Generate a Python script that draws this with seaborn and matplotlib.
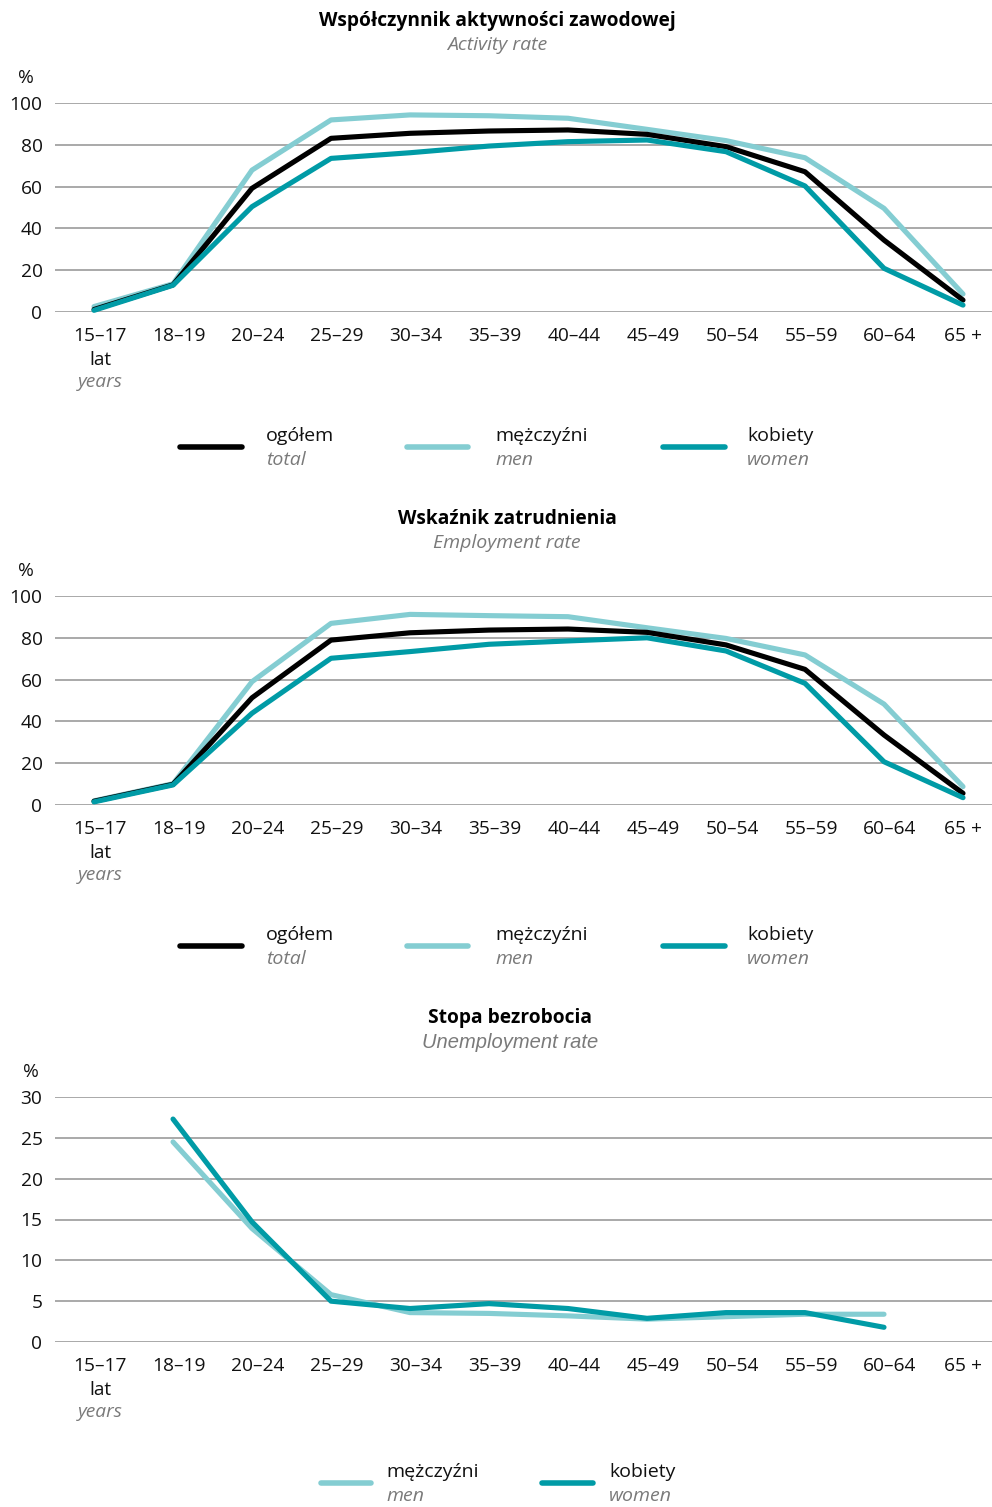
import numpy as np
import pandas as pd
import matplotlib.pyplot as plt
import matplotlib.transforms as mtransforms
from matplotlib.lines import Line2D
import seaborn as sns

# age groups
ages = ['15–17', '18–19', '20–24', '25–29', '30–34', '35–39',
        '40–44', '45–49', '50–54', '55–59', '60–64', '65 +']

# Activity rate (%)
activity_total = [1.2, 13.0, 59.2, 83.1, 85.5, 86.6, 87.1, 85.0, 79.1, 67.1, 34.4, 5.7]
activity_men = [2.6, 13.5, 67.9, 91.9, 94.3, 93.9, 92.7, 87.4, 82.0, 73.8, 49.6, 8.6]
activity_women = [0.8, 12.8, 50.4, 73.5, 76.2, 79.4, 81.5, 82.3, 76.7, 60.3, 20.9, 3.3]

# Employment rate (%)
employment_total = [1.8, 9.9, 51.3, 78.9, 82.4, 83.7, 84.2, 82.6, 76.6, 64.9, 33.5, 5.6]
employment_men = [2.0, 10.2, 59.0, 86.9, 91.2, 90.6, 90.1, 84.8, 79.7, 71.8, 48.3, 8.8]
employment_women = [1.5, 9.6, 43.9, 70.2, 73.4, 76.9, 78.5, 80.0, 73.7, 58.2, 20.7, 3.5]

# Unemployment rate (%) - no data for 15-17 and 65+
unemployment_men = [np.nan, 24.5, 13.9, 5.8, 3.6, 3.5, 3.2, 2.8, 3.1, 3.4, 3.4, np.nan]
unemployment_women = [np.nan, 27.3, 14.7, 5.0, 4.1, 4.7, 4.1, 2.9, 3.6, 3.6, 1.8, np.nan]

labels_pl = {'total': 'ogółem', 'men': 'mężczyźni', 'women': 'kobiety'}
labels_en = {'total': 'total', 'men': 'men', 'women': 'women'}
palette = {'total': '#000000', 'men': '#84cdd2', 'women': '#009ba6'}

sns.set_theme(style='white')
plt.rcParams['font.family'] = ['Open Sans', 'DejaVu Sans']
plt.rcParams['text.color'] = '#000000'

W, H = 992, 1507
fig = plt.figure(figsize=(W / 100, H / 100), dpi=100)
GRAY = '#7a7a7a'
FS = 13.8


def fx(px):
    return px / W


def fy(py):
    return 1 - py / H


def long_frame(series):
    frames = []
    for name, vals in series.items():
        frames.append(pd.DataFrame({'pos': np.arange(len(ages)), 'value': vals, 'group': name}))
    return pd.concat(frames, ignore_index=True)


def draw_panel(top_px, bottom_px, series, ymax, ystep, title, subtitle, pct_x, sub_font=None):
    ax = fig.add_axes([fx(55), fy(bottom_px), fx(992 - 55), (bottom_px - top_px) / H])
    df = long_frame(series)
    sns.lineplot(data=df, x='pos', y='value', hue='group', hue_order=list(series.keys()),
                 palette=palette, linewidth=3.7, legend=False, ax=ax, estimator=None,
                 sort=False)
    for line in ax.lines:
        line.set_clip_on(False)
        line.set_solid_capstyle('round')
    ax.set_xlim(-0.494, 11.367)
    ax.set_ylim(0, ymax)
    ax.set_yticks(np.arange(0, ymax + 1, ystep))
    ax.set_xticks(np.arange(len(ages)))
    ax.set_xticklabels([ages[0] + '\nlat'] + ages[1:], linespacing=1.45)
    ax.set_xlabel('')
    ax.set_ylabel('')
    ax.grid(axis='y', color='#a3a3a3', linewidth=1.3)
    ax.grid(axis='x', visible=False)
    ax.set_axisbelow(True)
    sns.despine(ax=ax, left=True, bottom=True)
    ax.tick_params(axis='both', length=0, labelsize=FS, colors='#111111')
    ax.tick_params(axis='x', pad=10.5)
    ax.tick_params(axis='y', pad=9)
    # labels sit slightly right of the points, as in the source
    shift = mtransforms.ScaledTranslation(6 / 100, 0, fig.dpi_scale_trans)
    for lab in ax.get_xticklabels()[:-1]:
        lab.set_transform(lab.get_transform() + shift)
    ax.annotate('years', xy=(0, 0), xycoords=('data', 'axes fraction'),
                xytext=(4.5, -50.5), textcoords='offset points', ha='center', va='center',
                fontsize=FS, style='italic', color=GRAY)
    fig.text(fx(pct_x), fy(top_px - 25), '%', fontsize=FS, ha='center', va='center',
             color='#111111')
    fig.text(fx(title[1]), fy(title[2]), title[0], fontsize=13.8,
             fontweight='bold', ha='center', va='center')
    kw = {}
    if sub_font:
        kw['family'] = [sub_font, 'DejaVu Sans']
    fig.text(fx(subtitle[1]), fy(subtitle[2]), subtitle[0], fontsize=14 if not sub_font else 14.5,
             style='italic', color=GRAY, ha='center', va='center', **kw)
    return ax


def draw_legend(entries, y_px):
    for key, x0, x1, xt in entries:
        fig.add_artist(Line2D([fx(x0), fx(x1)], [fy(y_px), fy(y_px)], transform=fig.transFigure,
                              color=palette[key], linewidth=4, solid_capstyle='round'))
        fig.text(fx(xt), fy(y_px - 11), labels_pl[key], fontsize=14, ha='left', va='center',
                 color='#111111')
        fig.text(fx(xt), fy(y_px + 13), labels_en[key], fontsize=14, ha='left', va='center',
                 style='italic', color=GRAY)


draw_panel(103, 312,
           {'men': activity_men, 'total': activity_total, 'women': activity_women},
           100, 20, ('Współczynnik aktywności zawodowej', 497, 21),
           ('Activity rate', 497, 45), 26)
draw_legend([('total', 180, 242, 266), ('men', 407, 468, 495), ('women', 663, 725, 747)], 447)

draw_panel(596, 805,
           {'men': employment_men, 'total': employment_total, 'women': employment_women},
           100, 20, ('Wskaźnik zatrudnienia', 507, 519),
           ('Employment rate', 507, 543), 26)
draw_legend([('total', 180, 242, 266), ('men', 407, 468, 495), ('women', 663, 725, 747)], 946)

draw_panel(1097, 1342,
           {'men': unemployment_men, 'women': unemployment_women},
           30, 5, ('Stopa bezrobocia', 510, 1018),
           ('Unemployment rate', 510, 1042), 31, sub_font='Liberation Sans')
draw_legend([('men', 321, 371, 386), ('women', 542, 593, 609)], 1483)

fig.savefig('out.png', dpi=100)
